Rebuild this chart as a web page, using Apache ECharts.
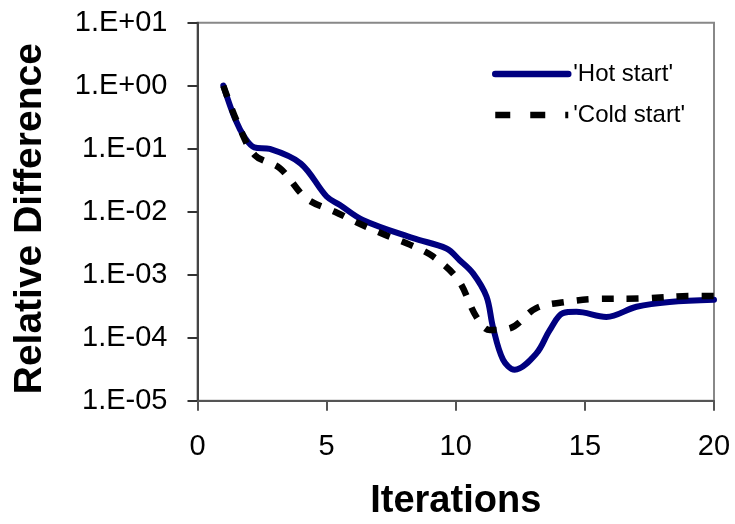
<!DOCTYPE html>
<html>
<head>
<meta charset="utf-8">
<script src="https://cdn.jsdelivr.net/npm/echarts@6/dist/echarts.min.js"></script>
<style>
html,body{margin:0;padding:0;background:#fff;}
#c{width:735px;height:524px;}
</style>
</head>
<body>
<div id="c"></div>
<script>
// Iteration / value pairs
const hotX = [1, 1.45, 1.85, 2.2, 2.8, 4.0, 5.0, 5.5, 6.4, 8.35, 9.64, 10.15, 10.67, 11.19, 11.44, 11.83, 12.28, 13.12, 13.64, 14.15, 14.67, 15.83, 17.0, 18.28, 20];
const hotY = [1.0, 0.30, 0.146, 0.105, 0.099, 0.058, 0.0174, 0.0129, 0.0074, 0.0038, 0.0026, 0.0017, 0.00105, 0.00045, 0.000148, 0.000045, 0.000031, 0.000056, 0.000132, 0.000245, 0.000257, 0.000214, 0.00031, 0.00037, 0.00040];
const coldX = [1, 1.58, 2.22, 3.19, 4.22, 5.32, 6.22, 7.25, 8.22, 9.12, 10.09, 10.8, 11.32, 12.09, 13.12, 14.28, 15.31, 17.2, 19.18, 20];
const coldY = [1.0, 0.24, 0.079, 0.049, 0.0162, 0.010, 0.0066, 0.0043, 0.0030, 0.00195, 0.00083, 0.000214, 0.000132, 0.000141, 0.000295, 0.00037, 0.00041, 0.00042, 0.00046, 0.00046];
const seriesNames = ["'Hot start'", "'Cold start'"];
const xTicks = [0, 5, 10, 15, 20];

const FONT = 'Liberation Sans, Arial, sans-serif';
const zip = (xs, ys) => xs.map((x, i) => [x, ys[i]]);

const chart = echarts.init(document.getElementById('c'), null, {renderer: 'canvas'});
chart.setOption({
  animation: false,
  backgroundColor: '#fff',
  grid: {
    left: 197.5, right: 21, top: 22.7, bottom: 123.3,
    containLabel: false, outerBoundsMode: 'none',
    show: true, borderColor: '#888', borderWidth: 2, backgroundColor: 'transparent'
  },
  legend: {
    left: 492, top: 62, orient: 'vertical', padding: 0,
    itemWidth: 73, itemHeight: 20, itemGap: 17,
    textStyle: {fontFamily: FONT, fontSize: 24, color: '#000'},
    itemStyle: {opacity: 0},
    data: [
      {name: seriesNames[0], itemStyle: {opacity: 0}, lineStyle: {color: '#000080', width: 6.5, cap: 'round', type: 'solid'}},
      {name: seriesNames[1], itemStyle: {opacity: 0}, lineStyle: {color: '#000', width: 6.5, cap: 'butt', type: [15, 20]}}
    ]
  },
  xAxis: {
    type: 'value', min: xTicks[0], max: xTicks[xTicks.length - 1], interval: 5,
    name: 'Iterations', nameLocation: 'middle', nameGap: 82,
    nameTextStyle: {fontFamily: FONT, fontSize: 38, fontWeight: 'bold', color: '#000'},
    axisLine: {show: true, onZero: false, lineStyle: {color: '#555', width: 2}},
    axisTick: {show: true, inside: false, length: 10, lineStyle: {color: '#555', width: 2}},
    axisLabel: {fontFamily: FONT, fontSize: 29, color: '#000', margin: 32},
    splitLine: {show: false}
  },
  yAxis: {
    type: 'log', logBase: 10, min: 1e-5, max: 10, interval: 1,
    name: 'Relative Difference', nameLocation: 'middle', nameGap: 148,
    nameTextStyle: {fontFamily: FONT, fontSize: 39, fontWeight: 'bold', color: '#000', padding: [0, 14, 0, 0]},
    axisLine: {show: true, lineStyle: {color: '#444', width: 2}},
    axisTick: {show: true, inside: false, length: 10, lineStyle: {color: '#333', width: 2}},
    axisLabel: {
      fontFamily: FONT, fontSize: 29, color: '#000', margin: 30,
      formatter: v => {
        const e = Math.round(Math.log10(v));
        return '1.E' + (e < 0 ? '-' : '+') + String(Math.abs(e)).padStart(2, '0');
      }
    },
    splitLine: {show: false}
  },
  series: [
    {
      name: seriesNames[0], type: 'line', data: zip(hotX, hotY),
      smooth: 0.35, symbol: 'none', showSymbol: false,
      lineStyle: {color: '#000080', width: 6, cap: 'round', join: 'round'},
      itemStyle: {color: '#000080', opacity: 0}, z: 3
    },
    {
      name: seriesNames[1], type: 'line', data: zip(coldX, coldY),
      smooth: 0.35, symbol: 'none', showSymbol: false,
      lineStyle: {color: '#000', width: 6.5, type: [12, 13], cap: 'butt'},
      itemStyle: {color: '#000', opacity: 0}, z: 4
    }
  ]
});
</script>
</body>
</html>
